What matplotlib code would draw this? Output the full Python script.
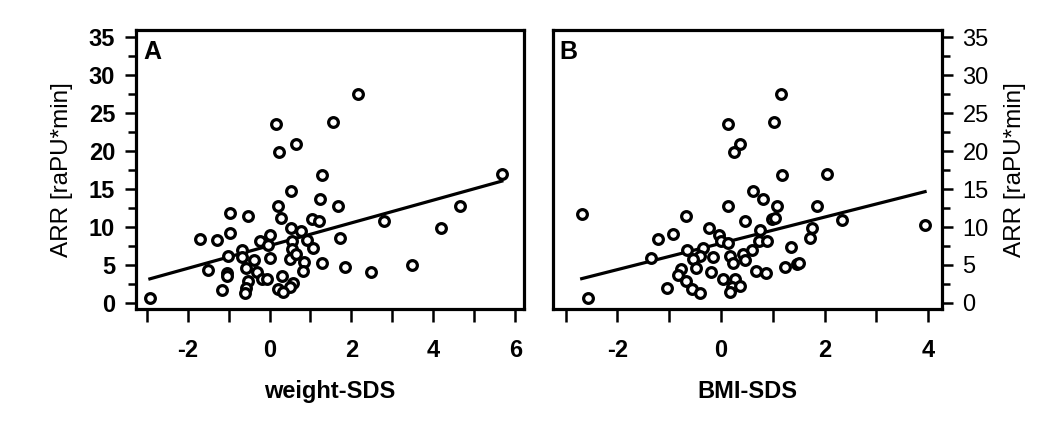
import numpy as np
import matplotlib
matplotlib.use("Agg")
import matplotlib.pyplot as plt
from matplotlib.ticker import MultipleLocator

plt.rcParams['font.family'] = ['Liberation Sans', 'DejaVu Sans']
plt.rcParams['axes.unicode_minus'] = False

# panel A: weight-SDS vs ARR
weight_sds = [-2.92, 0.17, 1.54, 0.22, 0.64, 1.29, 0.52, 1.23, 1.66, 0.20,
              0.27, -0.97, -0.52, 1.04, 1.21, 0.52, 0.78, -0.97, -1.69, -1.27,
              0.02, -0.23, -0.04, 0.54, 0.92, 1.05, 1.72, -1.01, -0.67, -0.68,
              -0.37, 0.01, 0.50, 0.55, 0.64, 0.85, 1.27, -1.50, -0.58, -0.31,
              -1.03, -1.05, -0.19, -0.07, 0.81, 0.31, -0.53, 0.58, 0.51, -0.58,
              -1.17, -0.60, 0.20, 0.33, 2.17, 5.67, 4.65, 2.79, 4.18, 1.84,
              2.47, 3.47]
arr_a = [0.7, 23.6, 23.9, 19.9, 20.9, 16.9, 14.8, 13.7, 12.8, 12.8,
         11.2, 11.8, 11.4, 11.1, 10.8, 9.9, 9.5, 9.2, 8.4, 8.3,
         8.9, 8.2, 7.6, 8.2, 8.3, 7.3, 8.6, 6.2, 7.0, 6.0,
         5.6, 5.9, 5.8, 7.1, 6.5, 5.45, 5.2, 4.4, 4.6, 4.1,
         4.0, 3.5, 3.1, 3.2, 4.2, 3.6, 2.9, 2.6, 2.15, 1.9,
         1.7, 1.3, 1.8, 1.5, 27.5, 17.0, 12.8, 10.8, 9.85, 4.7,
         4.1, 5.0]

# panel B: BMI-SDS vs ARR
bmi_sds = [-2.56, -2.69, 0.13, 1.16, 1.02, 0.37, 0.25, 1.18, 0.62, 0.82,
           0.14, 1.09, -0.68, 0.47, 0.99, 1.05, -1.22, -0.92, -0.23, -0.03,
           0.00, 0.14, 0.75, 0.73, 0.89, 0.59, -1.35, -0.65, -0.34, -0.41,
           -0.54, -0.15, 0.17, 0.42, 0.24, 0.47, -0.49, -0.77, -0.84, -0.68,
           -0.20, 0.04, 0.27, 0.67, 0.86, -1.04, -0.56, -0.40, 0.21, 0.37,
           0.17, 2.05, 1.86, 2.33, 3.94, 1.75, 1.72, 1.36, 1.46, 1.51,
           1.24]
arr_b = [0.7, 11.75, 23.6, 27.5, 23.85, 20.9, 19.85, 16.9, 14.8, 13.7,
         12.8, 12.8, 11.4, 10.8, 11.0, 11.25, 8.4, 9.1, 9.9, 9.0,
         8.2, 7.9, 9.6, 8.2, 8.2, 7.0, 5.9, 7.0, 7.3, 6.2,
         5.8, 6.0, 6.15, 6.5, 5.25, 5.6, 4.55, 4.45, 3.65, 2.9,
         4.1, 3.2, 3.2, 4.2, 4.0, 1.95, 1.8, 1.25, 2.05, 2.2,
         1.5, 17.0, 12.8, 10.9, 10.3, 9.85, 8.6, 7.35, 5.15, 5.3,
         4.7]

# regression lines (intercept, slope)
fit_a = (7.55, 1.50)
fit_b = (7.85, 1.73)

fig = plt.figure(figsize=(10.45, 4.25), dpi=100)
ax1 = fig.add_axes([0.1301, 0.273, 0.3713, 0.656])
ax2 = fig.add_axes([0.5289, 0.273, 0.3722, 0.656])

lw = 2.3
fs = 17


def panel(ax, x, y, fit, xlim, letter, xlabel, side):
    ax.plot(x, y, 'o', mfc='white', mec='black', ms=7.0, mew=2.3,
            linestyle='none', zorder=3)
    xx = np.array([min(x), max(x)])
    ax.plot(xx, fit[0] + fit[1] * xx, color='black', lw=lw, zorder=2)
    ax.set_xlim(*xlim)
    ax.set_ylim(-0.8, 35.95)
    for s in ax.spines.values():
        s.set_linewidth(lw)
    ax.xaxis.set_major_locator(MultipleLocator(2))
    ax.xaxis.set_minor_locator(MultipleLocator(1))
    ax.yaxis.set_major_locator(MultipleLocator(5))
    ax.yaxis.set_minor_locator(MultipleLocator(2.5))
    ax.tick_params(axis='x', which='both', length=9.5, width=1.8, pad=12,
                   labelsize=fs)
    ax.tick_params(axis='y', which='major', length=8, width=1.8, pad=7,
                   labelsize=fs)
    ax.tick_params(axis='y', which='minor', length=5.5, width=1.8)
    for lab in ax.get_xticklabels() + ax.get_yticklabels():
        lab.set_fontweight('bold')
    if side == 'right':
        ax.yaxis.tick_right()
        ax.yaxis.set_label_position('right')
        ax.yaxis.set_tick_params(which='both', labelleft=False, labelright=True)
    ax.set_xlabel(xlabel, fontsize=fs, fontweight='bold', labelpad=13)
    ax.set_ylabel('ARR [raPU*min]', fontsize=fs + 0.5, labelpad=11)
    ax.text(0.018, 0.965, letter, transform=ax.transAxes, fontsize=fs + 1,
            fontweight='bold', va='top', ha='left')


panel(ax1, weight_sds, arr_a, fit_a, (-3.26, 6.21), 'A', 'weight-SDS', 'left')
panel(ax2, bmi_sds, arr_b, fit_b, (-3.25, 4.26), 'B', 'BMI-SDS', 'right')

fig.savefig('out.png', dpi=100, facecolor='white')
